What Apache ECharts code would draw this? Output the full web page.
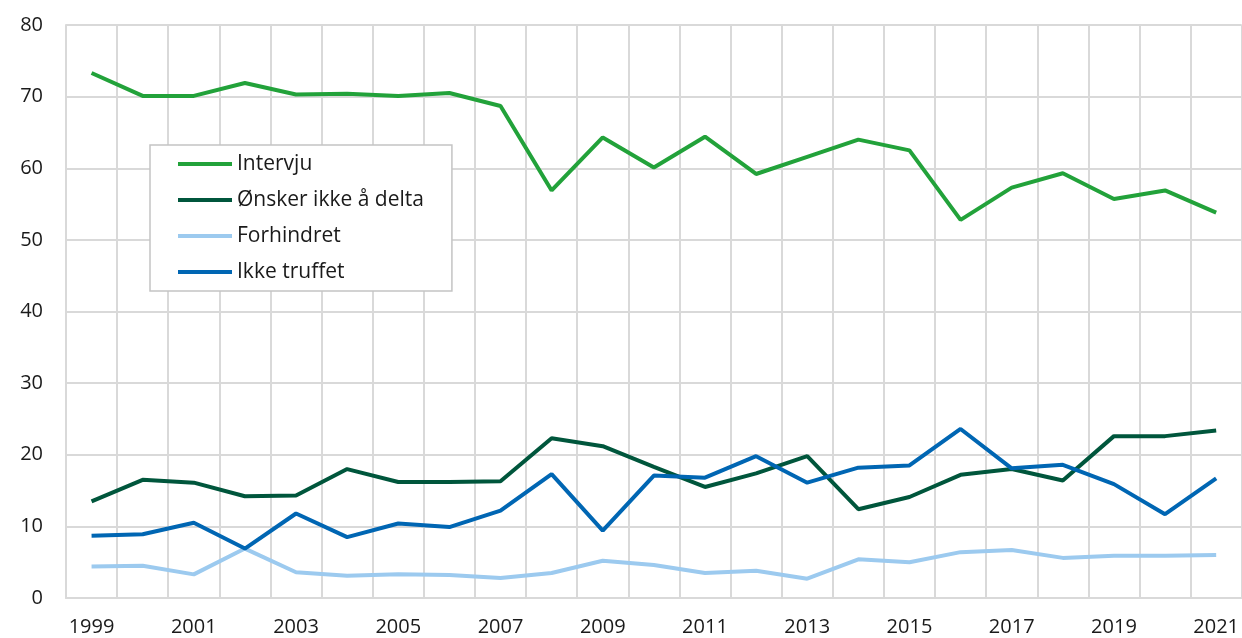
<!DOCTYPE html>
<html>
<head>
<meta charset="utf-8">
<script src="https://cdn.jsdelivr.net/npm/echarts@6/dist/echarts.min.js"></script>
<style>
  html, body { margin: 0; padding: 0; background: #fff; }
  #chart { width: 1242px; height: 638px; }
</style>
</head>
<body>
<div id="chart"></div>
<script>
const years = [
  "1999", "2000", "2001", "2002", "2003", "2004", "2005", "2006", "2007", "2008", "2009", "2010",
  "2011", "2012", "2013", "2014", "2015", "2016", "2017", "2018", "2019", "2020", "2021",
];

const intervju = [
  73.3, 70.1, 70.1, 71.9, 70.3, 70.4, 70.1, 70.5, 68.7, 56.9, 64.3, 60.1,
  64.4, 59.2, 61.6, 64.0, 62.5, 52.8, 57.3, 59.3, 55.7, 56.9, 53.8,
];
const onskerIkke = [
  13.5, 16.5, 16.1, 14.2, 14.3, 18.0, 16.2, 16.2, 16.3, 22.3, 21.2, 18.3,
  15.5, 17.4, 19.8, 12.4, 14.1, 17.2, 18.0, 16.4, 22.6, 22.6, 23.4,
];
const forhindret = [
  4.4, 4.5, 3.3, 6.9, 3.6, 3.1, 3.3, 3.2, 2.8, 3.5, 5.2, 4.6,
  3.5, 3.8, 2.7, 5.4, 5.0, 6.4, 6.7, 5.6, 5.9, 5.9, 6.0,
];
const ikkeTruffet = [
  8.7, 8.9, 10.5, 6.9, 11.8, 8.5, 10.4, 9.9, 12.2, 17.3, 9.4, 17.1,
  16.8, 19.8, 16.1, 18.2, 18.5, 23.6, 18.1, 18.6, 15.9, 11.7, 16.7,
];

const names = ["Intervju", "Ønsker ikke å delta", "Forhindret", "Ikke truffet"];
const colors = ["#22a23a", "#00563c", "#9ccaef", "#0066b3"];

const font = "'Open Sans', 'Noto Sans', sans-serif";
const gridColor = "#d9d9d9";

function line(name, data, color) {
  return {
    name,
    type: "line",
    data,
    symbol: "none",
    smooth: false,
    lineStyle: { color, width: 4 },
    itemStyle: { color },
    emphasis: { disabled: true },
  };
}

const chart = echarts.init(document.getElementById("chart"), null, { renderer: "canvas" });

chart.setOption({
  backgroundColor: "#fff",
  animation: false,
  grid: { left: 66, top: 25, width: 1178, bottom: 40 },
  legend: {
    orient: "vertical",
    left: 150,
    top: 145,
    icon: "rect",
    itemWidth: 54,
    itemHeight: 4,
    itemGap: 14,
    padding: [8, 28, 8, 28],
    backgroundColor: "#fff",
    borderColor: "#c4c4c4",
    borderWidth: 1.5,
    borderRadius: 0,
    textStyle: { fontFamily: font, fontSize: 21, color: "#1a1a1a", lineHeight: 22 },
    data: names.map((n, i) => ({ name: n, itemStyle: { color: colors[i] } })),
  },
  xAxis: {
    type: "category",
    data: years,
    boundaryGap: true,
    axisLine: { lineStyle: { color: gridColor, width: 2 } },
    axisTick: { show: false },
    axisLabel: { interval: 1, margin: 19, fontFamily: font, fontSize: 20, color: "#1a1a1a" },
    splitLine: { show: true, interval: 0, lineStyle: { color: gridColor, width: 2 } },
  },
  yAxis: {
    type: "value",
    min: 0,
    max: 80,
    interval: 10,
    axisLine: { show: true, lineStyle: { color: gridColor, width: 2 } },
    axisTick: { show: false },
    axisLabel: { margin: 23, fontFamily: font, fontSize: 20, color: "#1a1a1a" },
    splitLine: { lineStyle: { color: gridColor, width: 2 } },
  },
  series: [
    line(names[0], intervju, colors[0]),
    line(names[1], onskerIkke, colors[1]),
    line(names[2], forhindret, colors[2]),
    line(names[3], ikkeTruffet, colors[3]),
  ],
});
</script>
</body>
</html>
